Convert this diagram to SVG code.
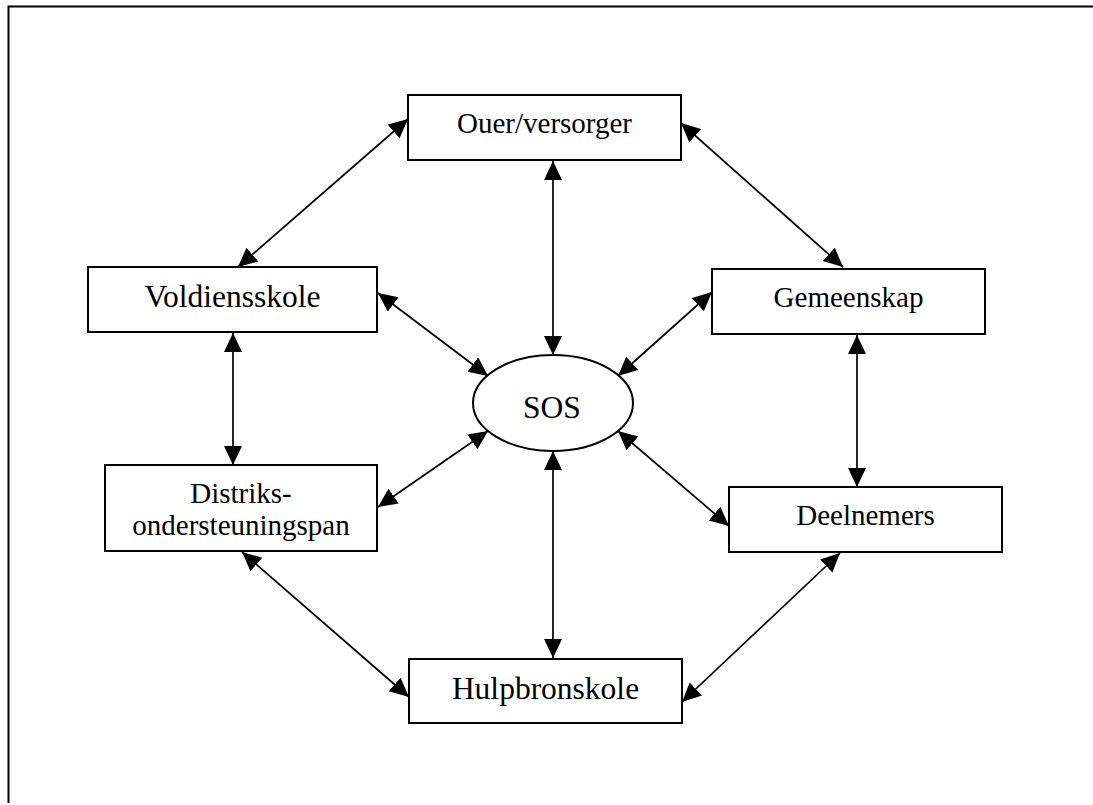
<svg xmlns="http://www.w3.org/2000/svg" width="1093" height="805" viewBox="0 0 1093 805">
  <style>
    .box { fill: #ffffff; stroke: #000000; stroke-width: 2; }
    .lbl { font-family: "Liberation Serif", "Times New Roman", serif; font-size: 29px; fill: #000000; text-anchor: middle; }
    .big { font-size: 31.5px; }
    .link { stroke: #000000; stroke-width: 1.7; fill: none; marker-start: url(#head); marker-end: url(#head); }
    .frame { stroke: #000000; stroke-width: 2; fill: none; }
  </style>
  <defs>
    <marker id="head" markerUnits="userSpaceOnUse" markerWidth="20" markerHeight="20" refX="19" refY="9" orient="auto-start-reverse">
      <path d="M0,0 L19,9 L0,18 z" fill="#000000"/>
    </marker>
  </defs>

  <rect width="1093" height="805" fill="#ffffff"/>

  <!-- page frame (open on the right and bottom) -->
  <path class="frame" d="M1093,6.5 H8.5 V803"/>

  <!-- connectors -->
  <g id="connectors">
    <line class="link" x1="408" y1="119" x2="238" y2="267"/>
    <line class="link" x1="681" y1="123" x2="843" y2="267"/>
    <line class="link" x1="553" y1="161" x2="553" y2="355"/>
    <line class="link" x1="378" y1="293" x2="488" y2="376"/>
    <line class="link" x1="712" y1="292" x2="618" y2="376"/>
    <line class="link" x1="233" y1="333" x2="233" y2="465"/>
    <line class="link" x1="857" y1="335" x2="857" y2="487"/>
    <line class="link" x1="378" y1="507" x2="488" y2="431"/>
    <line class="link" x1="729" y1="526" x2="618" y2="431"/>
    <line class="link" x1="242" y1="552" x2="409" y2="697"/>
    <line class="link" x1="840" y1="553" x2="682" y2="702"/>
    <line class="link" x1="553" y1="451" x2="553" y2="658"/>
  </g>

  <g id="ouer">
    <rect class="box" x="408" y="95" width="273" height="65"/>
    <text class="lbl" x="544.5" y="133">Ouer/versorger</text>
  </g>

  <g id="voldiensskole">
    <rect class="box" x="88" y="267" width="289" height="65"/>
    <text class="lbl big" x="232.5" y="307">Voldiensskole</text>
  </g>

  <g id="gemeenskap">
    <rect class="box" x="712" y="269" width="273" height="65"/>
    <text class="lbl" x="848.5" y="307">Gemeenskap</text>
  </g>

  <g id="sos">
    <ellipse class="box" cx="553" cy="403" rx="80" ry="48"/>
    <text class="lbl big" x="552" y="418">SOS</text>
  </g>

  <g id="distriks">
    <rect class="box" x="105" y="465" width="272" height="86"/>
    <text class="lbl" x="241" y="503">Distriks-</text>
    <text class="lbl" x="241" y="535">ondersteuningspan</text>
  </g>

  <g id="deelnemers">
    <rect class="box" x="729" y="487" width="273" height="65"/>
    <text class="lbl" x="865.5" y="525">Deelnemers</text>
  </g>

  <g id="hulpbronskole">
    <rect class="box" x="409" y="659" width="273" height="64"/>
    <text class="lbl big" x="545.5" y="699">Hulpbronskole</text>
  </g>
</svg>
